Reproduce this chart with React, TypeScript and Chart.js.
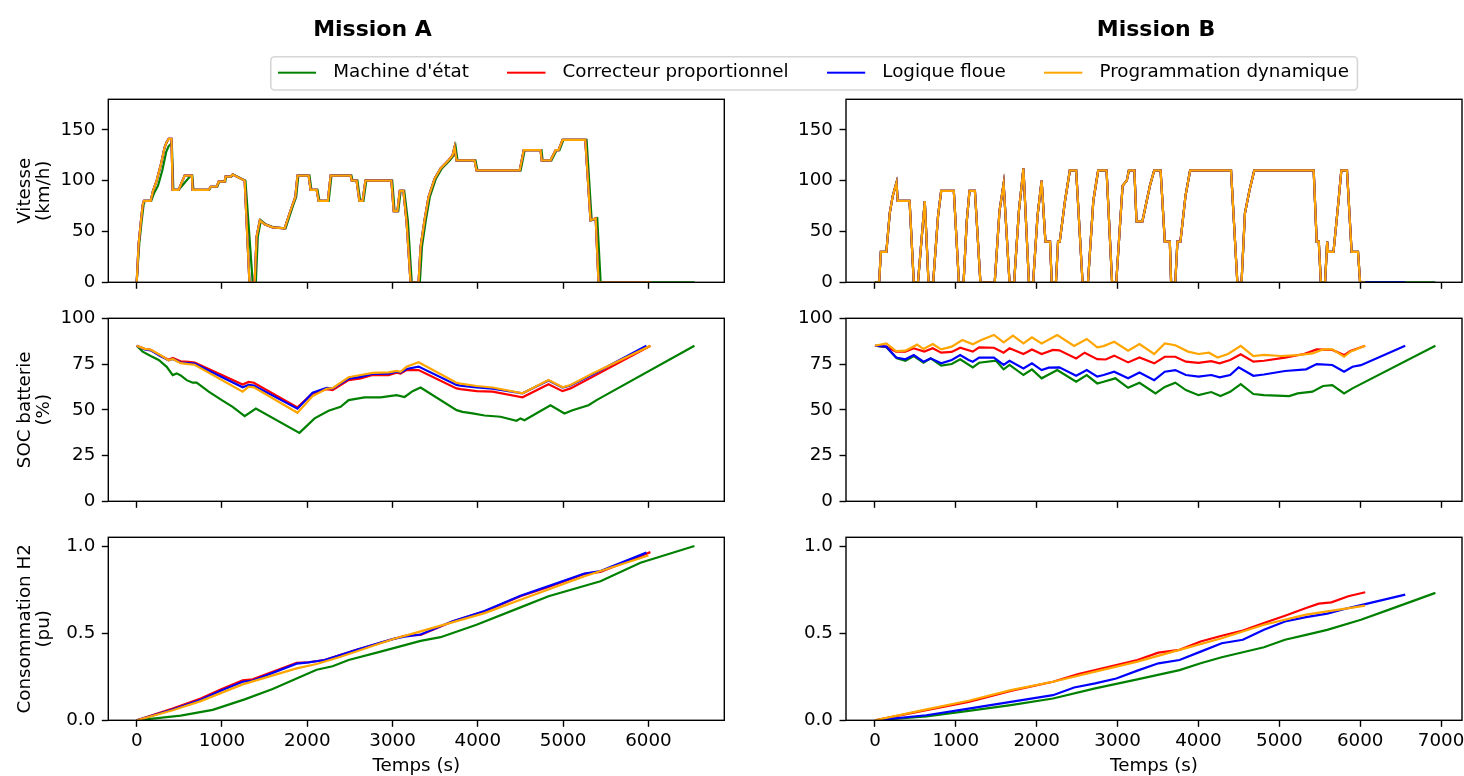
import React, { useEffect, useRef } from 'react';
import { Chart, registerables } from 'chart.js';

Chart.register(...registerables);

// ---------------- DATA ----------------
const STRATEGIES = ["Machine d'état", 'Correcteur proportionnel', 'Logique floue', 'Programmation dynamique'];
const COLORS = ['#008000', '#ff0000', '#0000ff', '#ffa500'];
const MISSIONS = ['Mission A', 'Mission B'];
const ROW_LABELS = [['Vitesse', '(km/h)'], ['SOC batterie', '(%)'], ['Consommation H2', '(pu)']];
const X_TITLE = 'Temps (s)';

const X_TICKS_A = [0, 1000, 2000, 3000, 4000, 5000, 6000];
const X_TICKS_B = [0, 1000, 2000, 3000, 4000, 5000, 6000, 7000];
const X_RANGE_A = [-333, 6890];
const X_RANGE_B = [-358, 7259];
const SPEED_TICKS = [0, 50, 100, 150];
const SPEED_RANGE = [0, 180];
const SOC_TICKS = [0, 25, 50, 75, 100];
const SOC_RANGE = [0, 100];
const H2_TICKS = [0, 0.5, 1];
const H2_TICK_LABELS = ['0.0', '0.5', '1.0'];
const H2_RANGE = [0, 1.05];

// end of simulation (s), order: green, red, blue, orange
const END_A = [6540, 6024, 5977, 6024];
const END_B = [6930, 6062, 6557, 6062];

// Mission A speed (km/h): red / blue / orange
const SPEED_A = [[0,0],[23,38],[47,58],[70,76],[84,80],[164,80],[188,89],[234,100],[281,115],[328,133],[352,138],[375,141],[408,141],[422,91],[492,91],[562,105],[647,105],[656,91],[844,91],[867,94],[938,94],[961,99],[1031,99],[1041,104],[1102,104],[1125,106],[1266,100],[1322,0],[1383,0],[1406,45],[1444,61],[1500,57],[1594,54],[1735,53],[1781,65],[1830,77],[1860,84],[1885,105],[2016,105],[2039,91],[2110,91],[2133,80],[2241,80],[2274,105],[2508,105],[2522,100],[2578,100],[2611,80],[2649,80],[2682,100],[2986,100],[3014,70],[3057,70],[3085,90],[3127,90],[3164,60],[3211,0],[3305,0],[3329,35],[3375,61],[3422,84],[3493,102],[3563,112],[3657,120],[3704,125],[3727,133],[3750,120],[3961,120],[3985,110],[4491,110],[4538,130],[4735,130],[4749,120],[4852,120],[4913,130],[4946,130],[4993,140],[5260,140],[5321,61],[5382,63],[5415,0]];
// Mission A speed (km/h): green
const SPEED_A_GREEN = [[0,0],[30,38],[55,58],[80,76],[95,80],[170,80],[200,87],[250,95],[300,110],[345,128],[375,134],[400,136],[412,136],[430,91],[492,91],[633,105],[652,105],[665,91],[850,91],[873,94],[945,94],[968,99],[1038,99],[1048,104],[1109,104],[1132,106],[1275,100],[1360,0],[1397,0],[1420,45],[1456,61],[1512,57],[1605,54],[1745,53],[1792,65],[1840,77],[1870,84],[1895,105],[2026,105],[2049,91],[2120,91],[2143,80],[2251,80],[2284,105],[2518,105],[2532,100],[2588,100],[2621,80],[2659,80],[2692,100],[2996,100],[3024,70],[3067,70],[3095,90],[3137,90],[3180,60],[3225,0],[3320,0],[3345,35],[3390,61],[3437,84],[3508,102],[3578,112],[3672,120],[3718,125],[3740,133],[3762,120],[3972,120],[3996,110],[4502,110],[4549,130],[4746,130],[4760,120],[4863,120],[4924,130],[4957,130],[5004,140],[5275,140],[5335,61],[5400,63],[5440,0]];
// Mission B speed (km/h): all strategies
const SPEED_B = [[0,0],[52,0],[73,30],[141,30],[183,68],[220,85],[266,98],[282,80],[428,80],[480,0],[532,0],[616,80],[662,0],[720,0],[780,65],[819,90],[975,90],[1038,0],[1096,0],[1135,60],[1169,90],[1236,90],[1304,0],[1481,0],[1540,70],[1591,97],[1664,0],[1721,0],[1780,70],[1836,112],[1904,0],[1956,0],[2010,65],[2061,100],[2108,40],[2165,40],[2186,0],[2238,0],[2264,40],[2285,40],[2350,80],[2410,110],[2488,110],[2567,0],[2634,0],[2700,80],[2760,110],[2864,110],[2932,0],[2984,0],[3062,95],[3114,100],[3140,110],[3208,110],[3234,60],[3307,60],[3400,95],[3453,110],[3532,110],[3584,40],[3646,40],[3662,0],[3714,0],[3740,40],[3777,40],[3840,85],[3897,110],[4403,110],[4481,0],[4533,0],[4575,68],[4630,90],[4690,110],[5425,110],[5462,40],[5488,40],[5514,0],[5566,0],[5592,40],[5603,30],[5670,30],[5732,80],[5767,110],[5837,110],[5894,30],[5973,30],[5999,0]];

// Mission A SOC (%)
const SOC_A_GREEN = [[0,85],[70,81.8],[164,79.4],[258,77.2],[352,73.5],[422,69],[469,69.9],[516,68.8],[586,66.2],[656,64.8],[703,64.8],[844,59.9],[984,55.7],[1125,51.6],[1266,46.5],[1397,50.7],[1908,37.4],[2086,45.3],[2250,49.5],[2391,51.6],[2485,55.3],[2672,56.8],[2860,56.8],[3047,58],[3141,57],[3235,60.2],[3329,62.2],[3751,49.8],[3820,48.9],[3938,48],[4079,46.9],[4266,46.2],[4454,44],[4500,45.3],[4547,44.3],[4852,52.5],[5016,48],[5110,49.8],[5298,52.5],[5392,55.3],[6540,85]];
const SOC_A_RED = [[0,85],[94,83.3],[164,82.8],[281,79.5],[375,77.4],[422,78.3],[516,76.5],[609,76.2],[680,75.8],[1242,63.8],[1313,65.2],[1374,64.8],[1885,51.3],[2063,59],[2227,61.3],[2297,60.8],[2485,66.2],[2626,67.2],[2766,69],[2954,69],[3047,70.3],[3094,69.8],[3164,71.7],[3305,71.7],[3750,61.7],[3797,61.3],[3985,60.2],[4173,59.9],[4524,56.8],[4829,64],[4993,60.2],[5087,61.7],[5345,68],[6024,85]];
const SOC_A_BLUE = [[0,85],[94,83],[164,82.5],[281,79.3],[375,77],[422,77.8],[516,75.8],[609,75.5],[680,75.2],[1242,62.3],[1313,63.6],[1374,63.2],[1885,50.6],[2063,59.3],[2227,62],[2297,61.6],[2485,67],[2626,68],[2766,69.6],[2954,69.8],[3047,70.8],[3094,70.3],[3164,72.3],[3305,73.6],[3750,63.6],[3797,63.2],[3985,62.2],[4173,61.6],[4524,59],[4829,66],[4993,62.2],[5087,63.3],[5345,69.3],[5977,85]];
const SOC_A_ORANGE = [[0,85],[94,83.3],[164,82.8],[281,79.8],[375,77],[422,77.8],[516,75.5],[609,75],[680,74.6],[1242,59.9],[1313,62.6],[1374,62.3],[1885,48.4],[2063,57.5],[2227,61.5],[2297,61.8],[2485,67.8],[2626,69],[2766,70.2],[2954,70.5],[3047,71.3],[3094,70.8],[3164,73.5],[3305,76],[3750,64.8],[3797,64.3],[3985,63],[4173,62.2],[4524,59],[4829,66.3],[4993,62.3],[5087,63.5],[5345,69.8],[6024,85]];

// Mission B SOC (%)
const SOC_B_GREEN = [[0,85],[141,84.2],[271,78.1],[376,76.8],[480,79.4],[600,75.7],[689,78.1],[819,74.1],[949,75],[1054,77.6],[1210,73.2],[1288,75.7],[1497,76.8],[1591,72.1],[1664,74.5],[1836,69],[1941,72.1],[2061,67.2],[2254,71.7],[2488,65.3],[2619,69],[2749,64.4],[2827,65.3],[2973,67.2],[3130,62],[3271,64.8],[3469,58.9],[3584,62.5],[3714,64.8],[3845,60.8],[4001,58],[4158,59.7],[4272,57.5],[4392,59.8],[4523,64],[4679,58.6],[4810,58],[5123,57.5],[5227,59],[5410,59.9],[5540,63],[5655,63.5],[5801,58.9],[5905,61.7],[6930,85]];
const SOC_B_RED = [[0,85],[141,84.5],[261,81.8],[376,81.8],[480,83.6],[610,81.8],[715,83.6],[819,81.2],[949,81.6],[1054,83.9],[1210,81.8],[1288,84.1],[1471,83.9],[1591,81.2],[1664,83.6],[1836,80.5],[1941,83],[2061,80.5],[2201,82.7],[2280,82.5],[2488,78.1],[2593,81.2],[2749,77.7],[2853,77.5],[2958,79.6],[3130,75.9],[3271,78.6],[3453,75.4],[3584,79],[3714,79],[3845,76.3],[4001,75.7],[4158,76.6],[4262,75.4],[4392,77.2],[4523,80.3],[4679,76.3],[4810,76.8],[5070,78.5],[5305,80.5],[5462,83],[5655,82.7],[5801,79.9],[5879,82.2],[6062,85]];
const SOC_B_BLUE = [[0,85],[141,84.5],[261,78.6],[376,77.6],[480,79.9],[600,76.3],[689,78.1],[819,75.4],[949,77.2],[1054,79.9],[1158,77.2],[1210,76.3],[1288,78.5],[1471,78.5],[1591,74.5],[1664,76.8],[1836,72.6],[1941,75.4],[2061,71.7],[2149,73],[2280,73.2],[2488,68.6],[2619,71.7],[2749,68.1],[2827,69],[2958,70.8],[3130,67.2],[3271,70.4],[3453,66.2],[3584,70.8],[3714,71.7],[3845,69],[4001,68.1],[4158,69],[4262,67.7],[4392,69],[4497,73.2],[4679,68.6],[4810,69.3],[5070,71.2],[5331,72.1],[5462,75],[5655,74.5],[5801,70.8],[5905,73.5],[6009,74.4],[6557,85]];
const SOC_B_ORANGE = [[0,85],[141,86.3],[261,82.1],[376,82.3],[522,85.6],[600,83.2],[715,85.9],[819,83],[949,84.5],[1080,88.1],[1210,85.8],[1315,88.1],[1471,90.9],[1591,86.9],[1706,90.5],[1836,86.3],[1941,89.6],[2061,86.3],[2254,90.9],[2463,84.9],[2619,88.7],[2749,84.1],[2827,84.8],[2958,87.2],[3130,82.3],[3271,85.9],[3453,80.5],[3584,86.3],[3714,85.3],[3871,81.8],[4001,80.5],[4131,81.2],[4236,78.6],[4366,80.5],[4523,84.9],[4679,79.4],[4810,80],[5018,79.4],[5227,79.9],[5410,80.8],[5540,83],[5655,83],[5801,79],[5879,81.8],[6062,85]];

// Mission A H2 consumption (pu)
const H2_A_GREEN = [[0,0],[516,0.027],[891,0.06],[1266,0.12],[1594,0.18],[1922,0.25],[2110,0.29],[2297,0.31],[2485,0.346],[2860,0.394],[3329,0.456],[3563,0.477],[3985,0.548],[4500,0.648],[4829,0.712],[5438,0.798],[5907,0.904],[6540,1.0]];
const H2_A_RED = [[0,0],[422,0.067],[750,0.125],[984,0.177],[1242,0.23],[1360,0.235],[1875,0.33],[2016,0.333],[2203,0.346],[2578,0.404],[3000,0.465],[3141,0.485],[3329,0.49],[3704,0.567],[4079,0.625],[4500,0.712],[4829,0.765],[5251,0.84],[5438,0.852],[6024,0.965]];
const H2_A_BLUE = [[0,0],[422,0.062],[750,0.118],[984,0.17],[1242,0.221],[1360,0.228],[1875,0.325],[2016,0.332],[2203,0.346],[2578,0.404],[3000,0.466],[3141,0.48],[3329,0.492],[3704,0.568],[4079,0.627],[4500,0.715],[4829,0.77],[5251,0.842],[5438,0.856],[5977,0.962]];
const H2_A_ORANGE = [[0,0],[422,0.058],[750,0.11],[1242,0.206],[1875,0.298],[2110,0.323],[2391,0.365],[3000,0.465],[3329,0.51],[4079,0.615],[4500,0.692],[5251,0.827],[6001,0.946]];

// Mission B H2 consumption (pu)
const H2_B_GREEN = [[0,0],[636,0.023],[1158,0.054],[1680,0.087],[2201,0.125],[2723,0.183],[3245,0.235],[3766,0.288],[4027,0.327],[4288,0.362],[4810,0.419],[5070,0.462],[5331,0.49],[5592,0.519],[6009,0.577],[6375,0.638],[6930,0.731]];
const H2_B_RED = [[0,0],[636,0.058],[1158,0.106],[1680,0.169],[2201,0.221],[2514,0.265],[2723,0.288],[2984,0.317],[3245,0.346],[3505,0.388],[3766,0.404],[4027,0.452],[4288,0.485],[4549,0.515],[4810,0.558],[5070,0.6],[5331,0.644],[5488,0.669],[5644,0.677],[5853,0.712],[6062,0.735]];
const H2_B_BLUE = [[0,0],[636,0.029],[1158,0.067],[1680,0.106],[2201,0.144],[2463,0.188],[2723,0.212],[2984,0.24],[3245,0.285],[3505,0.327],[3766,0.346],[4027,0.394],[4288,0.442],[4549,0.462],[4810,0.519],[5070,0.567],[5331,0.592],[5592,0.612],[5853,0.644],[6557,0.721]];
const H2_B_ORANGE = [[0,0],[636,0.063],[1158,0.112],[1680,0.173],[2201,0.221],[2723,0.279],[3245,0.337],[3766,0.404],[4288,0.471],[4810,0.548],[5331,0.606],[6062,0.658]];

// ---------------- LAYOUT ----------------
const FONT_FAMILY = "'DejaVu Sans', 'Liberation Sans', sans-serif";
const FS = 18.3;
const COL_CANVAS_LEFT = [0, 760];
const COL_CANVAS_W = [745, 704];
const COL_PLOT_LEFT = [108.3, 846];
const PLOT_W = 616;
const ROW_PLOT_TOP = [99.3, 318.3, 537.3];
const PLOT_H = 183;
const ROW_CANVAS_TOP = [87, 306, 525];
const ROW_CANVAS_H = [206, 206, 251];
const TITLE_X = [372.5, 1156];
const TITLE_BASELINE = 35.6;
const HEADER_H = 230;

Chart.defaults.font.family = FONT_FAMILY;
Chart.defaults.font.size = FS;
Chart.defaults.color = '#000';

const withEnd = (base: number[][], end: number) => [...base, [end, 0]];

const framePlugin = {
  id: 'axesFrame',
  afterDatasetsDraw(chart: any) {
    const { ctx, chartArea: a } = chart;
    ctx.save();
    ctx.strokeStyle = '#000';
    ctx.lineWidth = 1.4;
    ctx.strokeRect(a.left, a.top, a.right - a.left, a.bottom - a.top);
    ctx.restore();
  },
};

function panelConfig(col: number, row: number, series: number[][][], yRange: number[], yTicks: number[], yLabels: string[] | null) {
  const padTop = ROW_PLOT_TOP[row] - ROW_CANVAS_TOP[row];
  const yW = COL_PLOT_LEFT[col] - COL_CANVAS_LEFT[col];
  const padRight = COL_CANVAS_W[col] - yW - PLOT_W;
  const xH = ROW_CANVAS_H[row] - padTop - PLOT_H;
  const isBottom = row === 2;
  const xTicks = col === 0 ? X_TICKS_A : X_TICKS_B;
  const xRange = col === 0 ? X_RANGE_A : X_RANGE_B;
  return {
    type: 'line',
    data: {
      datasets: series.map((pts, i) => ({
        label: STRATEGIES[i],
        data: pts.map(([x, y]) => ({ x, y })),
        borderColor: COLORS[i],
        backgroundColor: COLORS[i],
        borderWidth: 2.2,
        pointRadius: 0,
        tension: 0,
        fill: false,
        order: 3 - i,
      })),
    },
    options: {
      responsive: false,
      animation: false,
      events: [],
      layout: { padding: { left: 0, right: padRight, top: padTop, bottom: 0 }, autoPadding: false },
      plugins: { legend: { display: false }, tooltip: { enabled: false }, title: { display: false } },
      scales: {
        x: {
          type: 'linear',
          min: xRange[0],
          max: xRange[1],
          afterBuildTicks: (ax: any) => { ax.ticks = xTicks.map((v) => ({ value: v })); },
          afterFit: (ax: any) => { ax.height = xH; ax.paddingLeft = 0; ax.paddingRight = 0; },
          ticks: { display: isBottom, padding: 3.7, color: '#000', maxRotation: 0, autoSkip: false, font: { size: FS }, callback: (v: any) => String(v) },
          grid: { display: true, drawOnChartArea: false, drawTicks: true, tickLength: 6.5, tickWidth: 1.4, tickColor: '#000' },
          border: { display: false },
          title: { display: isBottom, text: X_TITLE, color: '#000', font: { size: FS, lineHeight: 1 }, padding: { top: 0, bottom: 0.5 } },
        },
        y: {
          type: 'linear',
          min: yRange[0],
          max: yRange[1],
          afterBuildTicks: (ax: any) => { ax.ticks = yTicks.map((v) => ({ value: v })); },
          afterFit: (ax: any) => { ax.width = yW; ax.paddingTop = 0; ax.paddingBottom = 0; },
          ticks: { padding: 6.5, color: '#000', font: { size: FS, lineHeight: 0.3 }, callback: (v: any, i: number) => (yLabels ? yLabels[i] : String(v)) },
          grid: { display: true, drawOnChartArea: false, drawTicks: true, tickLength: 6.5, tickWidth: 1.4, tickColor: '#000' },
          border: { display: false },
          title: { display: col === 0, text: ROW_LABELS[row], color: '#000', font: { size: FS, lineHeight: 1.04 }, padding: { top: 15.5, bottom: 0 } },
        },
      },
    },
    plugins: [framePlugin],
  };
}

const headerPlugin = {
  id: 'headerDecor',
  beforeDraw(chart: any) {
    const boxes = chart.legend && chart.legend.legendHitBoxes;
    if (!boxes || !boxes.length) return;
    const first = boxes[0];
    const last = boxes[boxes.length - 1];
    const x0 = first.left - 7.3;
    const x1 = last.left + last.width + 8.5;
    const y0 = 56.7;
    const y1 = 90;
    const r = 4;
    const { ctx } = chart;
    ctx.save();
    ctx.beginPath();
    ctx.moveTo(x0 + r, y0);
    ctx.lineTo(x1 - r, y0);
    ctx.arcTo(x1, y0, x1, y0 + r, r);
    ctx.lineTo(x1, y1 - r);
    ctx.arcTo(x1, y1, x1 - r, y1, r);
    ctx.lineTo(x0 + r, y1);
    ctx.arcTo(x0, y1, x0, y1 - r, r);
    ctx.lineTo(x0, y0 + r);
    ctx.arcTo(x0, y0, x0 + r, y0, r);
    ctx.closePath();
    ctx.fillStyle = 'rgba(255,255,255,0.8)';
    ctx.fill();
    ctx.strokeStyle = '#d6d6d6';
    ctx.lineWidth = 1.6;
    ctx.stroke();
    ctx.restore();
  },
  afterDraw(chart: any) {
    const { ctx } = chart;
    ctx.save();
    ctx.fillStyle = '#000';
    ctx.font = `bold 22px ${FONT_FAMILY}`;
    ctx.textAlign = 'center';
    ctx.textBaseline = 'alphabetic';
    MISSIONS.forEach((m, i) => ctx.fillText(m, TITLE_X[i], TITLE_BASELINE));
    ctx.restore();
  },
};

function makeLegendIcon(color: string) {
  const c = document.createElement('canvas');
  c.width = 46;
  c.height = 4;
  const g = c.getContext('2d')!;
  g.strokeStyle = color;
  g.lineWidth = 2.2;
  g.beginPath();
  g.moveTo(0, 2);
  g.lineTo(38, 2);
  g.stroke();
  return c;
}

const PANELS = [
  { col: 0, row: 0, series: [withEnd(SPEED_A_GREEN, END_A[0]), withEnd(SPEED_A, END_A[1]), withEnd(SPEED_A, END_A[2]), withEnd(SPEED_A, END_A[3])], yRange: SPEED_RANGE, yTicks: SPEED_TICKS, yLabels: null },
  { col: 1, row: 0, series: [withEnd(SPEED_B, END_B[0]), withEnd(SPEED_B, END_B[1]), withEnd(SPEED_B, END_B[2]), withEnd(SPEED_B, END_B[3])], yRange: SPEED_RANGE, yTicks: SPEED_TICKS, yLabels: null },
  { col: 0, row: 1, series: [SOC_A_GREEN, SOC_A_RED, SOC_A_BLUE, SOC_A_ORANGE], yRange: SOC_RANGE, yTicks: SOC_TICKS, yLabels: null },
  { col: 1, row: 1, series: [SOC_B_GREEN, SOC_B_RED, SOC_B_BLUE, SOC_B_ORANGE], yRange: SOC_RANGE, yTicks: SOC_TICKS, yLabels: null },
  { col: 0, row: 2, series: [H2_A_GREEN, H2_A_RED, H2_A_BLUE, H2_A_ORANGE], yRange: H2_RANGE, yTicks: H2_TICKS, yLabels: H2_TICK_LABELS },
  { col: 1, row: 2, series: [H2_B_GREEN, H2_B_RED, H2_B_BLUE, H2_B_ORANGE], yRange: H2_RANGE, yTicks: H2_TICKS, yLabels: H2_TICK_LABELS },
];

export default function App() {
  const headerRef = useRef<HTMLCanvasElement | null>(null);
  const panelRefs = useRef<(HTMLCanvasElement | null)[]>([]);

  useEffect(() => {
    const charts: Chart[] = [];
    const icons = COLORS.map(makeLegendIcon);
    if (headerRef.current) {
      charts.push(
        new Chart(headerRef.current, {
          type: 'line',
          data: { datasets: STRATEGIES.map((s, i) => ({ label: s, data: [], borderColor: COLORS[i], backgroundColor: COLORS[i] })) },
          options: {
            responsive: false,
            animation: false,
            events: [],
            layout: { padding: { left: 163, top: 25, right: 0, bottom: 0 } },
            scales: { x: { type: 'linear', display: false }, y: { display: false } },
            plugins: {
              tooltip: { enabled: false },
              legend: {
                display: true,
                position: 'top',
                align: 'center',
                labels: {
                  usePointStyle: true,
                  pointStyleWidth: 46,
                  padding: 38.5,
                  color: '#000',
                  font: { size: FS },
                  generateLabels: () =>
                    STRATEGIES.map((text, i) => ({
                      text,
                      fillStyle: COLORS[i],
                      strokeStyle: COLORS[i],
                      lineWidth: 0,
                      pointStyle: icons[i],
                      hidden: false,
                      datasetIndex: i,
                      fontColor: '#000',
                    })),
                },
              },
            },
          } as any,
          plugins: [headerPlugin],
        } as any)
      );
    }
    PANELS.forEach((p, i) => {
      const cv = panelRefs.current[i];
      if (!cv) return;
      charts.push(new Chart(cv, panelConfig(p.col, p.row, p.series, p.yRange, p.yTicks, p.yLabels) as any));
    });
    return () => charts.forEach((c) => c.destroy());
  }, []);

  return (
    <div style={{ position: 'absolute', left: 0, top: 0, width: 1464, height: 776, overflow: 'hidden', background: '#fff' }}>
      <canvas ref={headerRef} width={1464} height={HEADER_H} style={{ position: 'absolute', left: 0, top: 0, width: 1464, height: HEADER_H }} />
      {PANELS.map((p, i) => (
        <canvas
          key={i}
          ref={(el) => { panelRefs.current[i] = el; }}
          width={COL_CANVAS_W[p.col]}
          height={ROW_CANVAS_H[p.row]}
          style={{ position: 'absolute', left: COL_CANVAS_LEFT[p.col], top: ROW_CANVAS_TOP[p.row], width: COL_CANVAS_W[p.col], height: ROW_CANVAS_H[p.row] }}
        />
      ))}
    </div>
  );
}
